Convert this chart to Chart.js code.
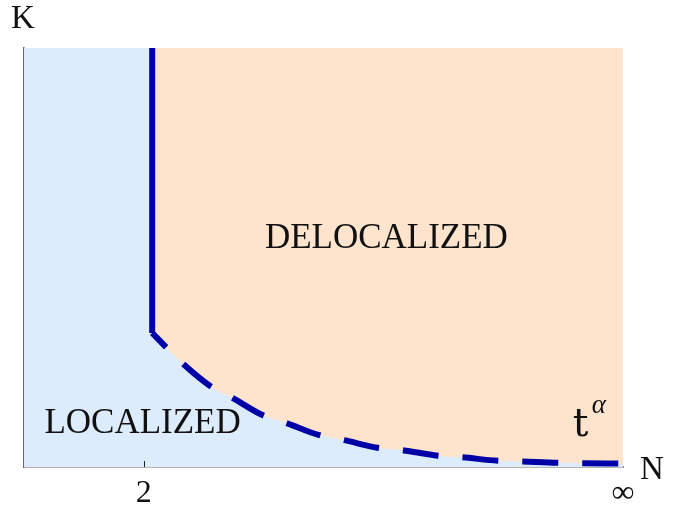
<!DOCTYPE html>
<html>
<head>
<meta charset="utf-8">
<script src="https://cdn.jsdelivr.net/npm/chart.js@4/dist/chart.umd.min.js"></script>
<style>
  html, body { margin: 0; padding: 0; background: #fff; }
  #wrap { width: 683px; height: 510px; }
</style>
</head>
<body>
<div id="wrap"><canvas id="phaseChart"></canvas></div>
<script>
// axis units 0..100 on both sides
// solid vertical boundary at N=2
const wallX = [21.4, 21.4];
const wallY = [100, 32.0];
// dashed t^alpha boundary
const curveX = [21.4, 23.7, 26.4, 31.3, 34.8, 39.8, 43.8, 49.3, 53.5, 59.0, 63.2, 69.1, 73.2, 79.1, 83.3, 89.1, 93.3, 100];
const curveY = [32.0, 28.6, 24.8, 19.1, 16.5, 12.4, 10.5, 7.6, 6.4, 4.6, 4.0, 2.7, 2.3, 1.5, 1.3, 1.0, 0.9, 0.8];

const xTickValues = [20, 100];
const xTickLabels = ['2', '∞'];

const SERIF = '"Liberation Serif", "DejaVu Serif", serif';
const LINE_BLUE = '#0000a6';

// fond bleu de la zone + textes + petite graduation
const phasePlugin = {
  id: 'phasePlugin',
  beforeDatasetsDraw(chart) {
    const { ctx, chartArea: a } = chart;
    ctx.save();
    ctx.fillStyle = '#dcecfd';
    ctx.fillRect(a.left, a.top, a.right - a.left, a.bottom - a.top);
    ctx.restore();
  },
  afterDraw(chart) {
    const { ctx, chartArea: a, scales } = chart;
    const x = scales.x, y = scales.y;
    ctx.save();
    ctx.fillStyle = '#111';
    ctx.textBaseline = 'middle';
    ctx.textAlign = 'center';
    ctx.font = '35px ' + SERIF;
    ctx.fillText('DELOCALIZED', x.getPixelForValue(60.5), y.getPixelForValue(54.5));
    ctx.fillText('LOCALIZED', x.getPixelForValue(19.8), y.getPixelForValue(10.3));
    // t^alpha
    ctx.textAlign = 'left';
    ctx.textBaseline = 'alphabetic';
    ctx.font = '39px "DejaVu Serif", serif';
    ctx.fillText('t', x.getPixelForValue(91.6), y.getPixelForValue(7.4));
    ctx.font = 'italic 27px ' + SERIF;
    ctx.fillText('α', x.getPixelForValue(94.8), y.getPixelForValue(12.8));
    // axis names
    ctx.textBaseline = 'middle';
    ctx.textAlign = 'center';
    ctx.font = '33px ' + SERIF;
    ctx.fillText('K', a.left - 1, 19);
    ctx.fillText('N', a.right + 29, a.bottom + 3);
    // inner tick at N=2
    ctx.strokeStyle = '#222';
    ctx.lineWidth = 1;
    const tx = Math.round(x.getPixelForValue(xTickValues[0])) + 0.5;
    ctx.beginPath();
    ctx.moveTo(tx, a.bottom);
    ctx.lineTo(tx, a.bottom - 6);
    ctx.stroke();
    ctx.restore();
  }
};

const ctx = document.getElementById('phaseChart').getContext('2d');
const phaseChart = new Chart(ctx, {
  type: 'scatter',
  data: {
    datasets: [
      {
        label: 'N = 2',
        data: wallX.map((v, i) => ({ x: v, y: wallY[i] })),
        showLine: true,
        borderColor: LINE_BLUE,
        borderWidth: 6,
        pointRadius: 0,
        fill: false
      },
      {
        label: 't^alpha',
        data: curveX.map((v, i) => ({ x: v, y: curveY[i] })),
        showLine: true,
        borderColor: LINE_BLUE,
        borderWidth: 6,
        borderDash: [36, 24],
        borderDashOffset: 16,
        borderCapStyle: 'butt',
        pointRadius: 0,
        cubicInterpolationMode: 'monotone',
        fill: 'end',
        backgroundColor: '#fee4cc'
      }
    ]
  },
  options: {
    responsive: true,
    maintainAspectRatio: false,
    animation: false,
    layout: { padding: { left: 24, right: 60, top: 48, bottom: 0 } },
    plugins: {
      legend: { display: false },
      tooltip: { enabled: false },
      title: { display: false }
    },
    scales: {
      x: {
        type: 'linear',
        min: 0,
        max: 100,
        afterBuildTicks: s => { s.ticks = xTickValues.map(v => ({ value: v })); },
        afterFit: s => { s.height = 43; },
        ticks: {
          autoSkip: false,
          maxRotation: 0,
          padding: 11,
          color: '#111',
          font: { family: SERIF, size: 32, lineHeight: 1 },
          callback: (val, i) => xTickLabels[i]
        },
        grid: { display: false, drawTicks: false },
        border: { display: true, color: '#6a6a6a', width: 1.5 }
      },
      y: {
        type: 'linear',
        min: 0,
        max: 100,
        ticks: { display: false },
        grid: { display: false, drawTicks: false },
        border: { display: true, color: '#6a6a6a', width: 1.5 }
      }
    }
  },
  plugins: [phasePlugin]
});
</script>
</body>
</html>
